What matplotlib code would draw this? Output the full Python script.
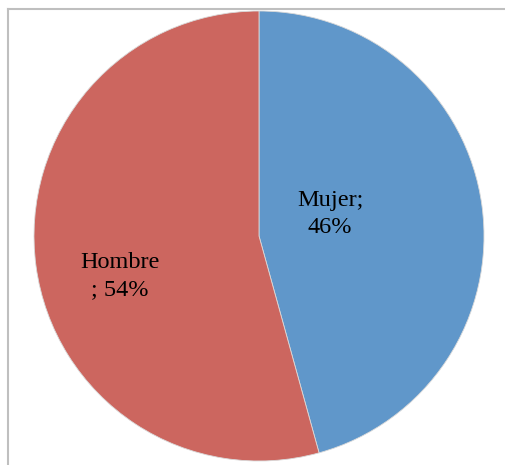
import matplotlib.pyplot as plt
from matplotlib.lines import Line2D

labels = ['Mujer;\n46%', 'Hombre\n; 54%']
shares = [45.7, 54.3]
colors = ['#6097CA', '#CC665F']
# label positions inside the pie (unit radius)
label_pos = [(0.316, 0.098), (-0.618, -0.178)]

fig = plt.figure(figsize=(5.05, 4.65), dpi=100)
ax = fig.add_axes([34 / 505, 4 / 465, 450 / 505, 450 / 465])

ax.pie(shares, colors=colors, startangle=90, counterclock=False,
       wedgeprops={'edgecolor': '#d9d9d9', 'linewidth': 0.6})
ax.set_xlim(-1, 1)
ax.set_ylim(-1, 1)
ax.set_aspect('equal')
for w in ax.patches:
    w.set_clip_on(False)

for lab, (x, y) in zip(labels, label_pos):
    ax.text(x, y, lab, ha='center', va='center', fontsize=17.5,
            family='Liberation Serif', linespacing=1.35)

# chart area frame (top and left edge visible)
fig.add_artist(Line2D([7.5 / 505, 7.5 / 505], [0, 1 - 9.5 / 465],
                      transform=fig.transFigure, color='#bfbfbf', lw=1.5))
fig.add_artist(Line2D([7.5 / 505, 1], [1 - 9.5 / 465, 1 - 9.5 / 465],
                      transform=fig.transFigure, color='#bfbfbf', lw=1.5))

fig.savefig('out.png', dpi=100)
